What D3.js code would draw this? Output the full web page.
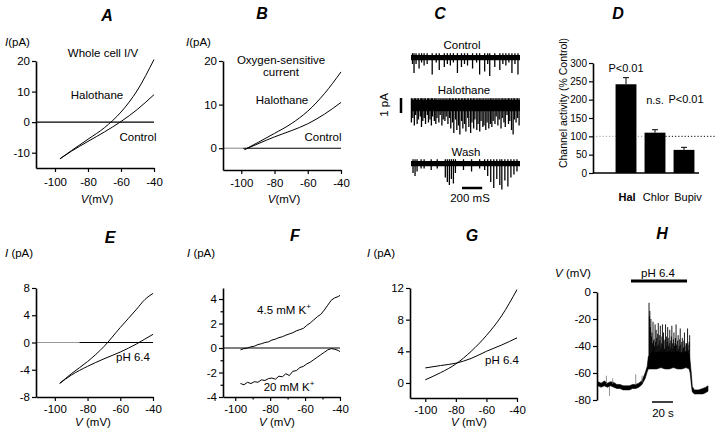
<!DOCTYPE html>
<html><head><meta charset="utf-8">
<script src="https://cdn.jsdelivr.net/npm/d3@7"></script>
<style>
body{margin:0;background:#fff}
svg{display:block;font-family:"Liberation Sans",Arial,Helvetica,sans-serif}
</style></head><body>
<svg id="c" width="720" height="440"></svg>
<script>
// ---------------- DATA ----------------
const panelTitles = ["A","B","C","D","E","F","G","H"];
const voltTicks = [-100,-80,-60,-40];

// A: whole cell I/V
const voltA = [-97,-90,-80,-70,-60,-50,-40];
const curA_control = [-12,-9.5,-6.3,-3.2,0.2,4.2,9];
const curA_halothane = [-12,-9.3,-5.6,-1.8,3.3,10.5,20.5];
const ticksA = [20,10,0,-10];

// B: oxygen-sensitive current
const voltB = [-98,-90,-80,-70,-60,-50,-40];
const curB_control = [-0.3,1.0,2.6,4.0,5.6,7.8,10.5];
const curB_halothane = [-0.3,1.3,3.4,5.6,8.5,12.5,17.5];
const ticksB = [20,10,0];

// C: single channel traces (time ms, amplitude pA)
const cLabels = ["Control","Halothane","Wash"];
const cNoise = [0.35, 0.75, 0.35];
const cEvents_control = [[15,-0.6],[30,-1.2],[50,-0.6],[80,-0.9],[105,-0.5],[130,-0.7],[160,-0.6],[210,-1.3],[250,-0.5],[280,-1.0],[330,-0.8],[360,-0.6],[390,-0.7],[420,-0.5],[460,-1.2],[500,-0.8],[530,-0.6],[560,-0.7],[610,-0.9],[650,-0.5],[680,-1.3],[730,-1.1],[760,-0.6],[780,-1.4],[830,-0.8],[880,-1.0],[910,-0.6],[940,-0.7],[970,-0.5],[1000,-1.2],[1030,-0.6],[1060,-1.3]];
const cEvents_halothane = [[4,-1.5],[18,-1.2],[33,-1.7],[46,-1.0],[61,-1.6],[74,-1.3],[92,-1.1],[104,-1.8],[117,-1.4],[131,-1.2],[144,-1.6],[162,-1.0],[173,-1.5],[188,-1.3],[202,-1.7],[214,-1.1],[231,-1.4],[246,-1.6],[258,-1.2],[276,-1.5],[289,-1.0],[306,-1.7],[319,-1.3],[336,-1.4],[349,-1.1],[366,-1.6],[381,-1.2],[394,-1.9],[411,-1.5],[424,-2.2],[441,-1.3],[454,-2.0],[471,-1.7],[484,-2.3],[502,-1.4],[514,-1.9],[531,-1.6],[544,-2.1],[562,-1.2],[573,-1.8],[591,-2.2],[604,-1.5],[621,-1.9],[633,-1.3],[652,-2.0],[664,-1.6],[681,-2.1],[694,-1.4],[712,-1.8],[723,-1.7],[741,-2.0],[754,-1.5],[771,-1.9],[786,-1.6],[801,-1.8],[814,-1.4],[832,-1.6],[844,-1.1],[861,-1.7],[874,-1.3],[892,-1.9],[904,-1.2],[921,-1.5],[934,-1.8],[951,-1.0],[966,-1.6],[979,-1.4],[996,-2.0],[1012,-2.3],[1024,-1.3],[1041,-1.5],[1056,-1.2],[1071,-1.7]];
const cEvents_wash = [[20,-0.8],[40,-1.0],[60,-0.7],[100,-0.5],[130,-0.5],[200,-0.6],[260,-0.5],[340,-1.1],[360,-1.4],[380,-1.6],[400,-1.2],[420,-1.5],[440,-0.8],[520,-0.6],[600,-0.7],[680,-0.5],[730,-0.6],[760,-1.0],[790,-1.4],[820,-1.8],[850,-1.2],[880,-1.6],[900,-1.9],[930,-1.3],[960,-1.7],[990,-1.1],[1020,-0.9],[1050,-0.7]];

// D: channel activity (% control)
const dCategories = ["Hal","Chlor","Bupiv"];
const dValues = [242,110,63];
const dErrors = [18,8,7];
const dSignif = ["P<0.01","n.s.","P<0.01"];
const dTicks = [0,50,100,150,200,250,300];

// E: pH effect, whole cell
const voltE = [-97,-90,-80,-70,-60,-50,-45,-40];
const curE_control = [-6,-4.6,-2.8,-0.6,2.2,4.9,6.3,7.2];
const curE_ph64 = [-6,-4.8,-3.5,-2.4,-1.4,-0.2,0.5,1.2];
const ticksE = [8,4,0,-4,-8];

// F: K+ dependence
const voltF = [-97,-95,-93,-91,-89,-87,-85,-83,-81,-79,-77,-75,-73,-71,-69,-67,-65,-63,-61,-59,-57,-55,-53,-51,-49,-47,-45,-43,-41,-40];
const curF_k45 = [-0.15,-0.05,0.0,0.1,0.15,0.28,0.35,0.45,0.5,0.65,0.72,0.85,0.92,1.05,1.15,1.25,1.4,1.5,1.6,1.85,2.05,2.3,2.55,2.75,3.1,3.5,3.9,4.1,4.2,4.3];
const curF_k20 = [-2.9,-3.0,-2.8,-2.9,-2.75,-2.8,-2.6,-2.65,-2.5,-2.45,-2.55,-2.3,-2.35,-2.1,-2.25,-1.9,-1.85,-1.6,-1.5,-1.3,-1.15,-0.95,-0.75,-0.55,-0.35,-0.15,-0.05,-0.1,-0.2,-0.3];
const ticksF = [4,2,0,-2,-4];
const minorTicksF = [3,1,-1,-3];

// G: single-channel I/V
const voltG = [-100,-90,-80,-70,-60,-50,-40];
const curG_control = [0.4,1.3,2.4,4.0,6.0,8.5,11.8];
const curG_ph64 = [1.9,2.2,2.5,3.1,4.0,4.8,5.7];
const ticksG = [12,8,4,0];

// H: membrane potential (time s, low mV, high mV envelope)
const hBand = [[0,-69.5,-66.5],[3,-70.5,-67.5],[6,-69.5,-66],[9,-70.5,-67.5],[12,-69.5,-66.5],[15,-70.5,-67],[18,-71.5,-68.5],[21,-71.5,-68.5],[24,-72.5,-69.5],[27,-72.5,-69.5],[30,-72.5,-69.5],[33,-71.5,-68.5],[36,-71.5,-68.5],[39,-70.5,-67.5],[42,-68.5,-65.5],[45,-64,-60],[47,-59,-55],[48,-57,-48],[52,-57,-44],[56,-57,-45],[60,-56,-44],[64,-57,-45],[68,-57,-44],[72,-56,-45],[76,-57,-44],[80,-57,-45],[84,-56,-44],[87,-57,-46],[88,-60,-52],[89,-68,-60],[90,-74,-70],[92,-75.5,-72.5],[96,-75.5,-72.5],[100,-75.5,-71.5],[103,-74.5,-70.5],[105,-73.5,-69.5]];
const hSpikes = [[48.7,-8],[49.1,-18],[49.5,-14],[50.0,-26],[50.5,-20],[51.0,-33],[51.5,-30],[52.0,-38],[52.5,-22],[53.0,-36],[53.5,-35],[54.0,-40],[54.5,-24],[55.0,-37],[55.5,-28],[56.0,-34],[56.5,-40],[57.0,-31],[57.5,-23],[58.0,-39],[58.5,-32],[59.0,-36],[59.5,-25],[60.0,-41],[60.5,-38],[61.0,-33],[61.5,-24],[62.0,-39],[62.5,-30],[63.0,-36],[63.5,-42],[64.0,-35],[64.5,-24],[65.0,-40],[65.5,-33],[66.0,-37],[66.5,-26],[67.0,-34],[67.5,-40],[68.0,-38],[68.5,-28],[69.0,-41],[69.5,-36],[70.0,-33],[70.5,-25],[71.0,-38],[71.5,-42],[72.0,-35],[72.5,-30],[73.0,-40],[73.5,-38],[74.0,-34],[74.5,-24],[75.0,-39],[75.5,-44],[76.0,-36],[76.5,-32],[77.0,-42],[77.5,-40],[78.0,-35],[78.5,-27],[79.0,-39],[79.5,-45],[80.0,-37],[80.5,-34],[81.0,-42],[81.5,-41],[82.0,-36],[82.5,-30],[83.0,-40],[83.5,-46],[84.0,-38],[84.5,-38],[85.0,-42],[85.5,-27],[86.0,-39],[86.5,-43],[87.0,-37],[87.5,-32]];
const hSmall = [[8,-68,-62],[11,-70,-77],[14,-68,-64],[36,-69,-61],[42,-67,-62]];
const hTicks = [0,-20,-40,-60,-80];
const hPhPeriod = [31.5,85];

// ---------------- DRAWING ----------------
const svg = d3.select("#c");
const FS = 11.5;

function txt(x, y, s, o = {}) {
  const t = svg.append("text").attr("x", x).attr("y", y)
    .attr("font-size", o.size || FS).attr("text-anchor", o.anchor || "middle").attr("fill", "#000");
  if (o.bold) t.attr("font-weight", "bold");
  if (o.italic) t.attr("font-style", "italic");
  if (o.rotate) t.attr("transform", `rotate(${o.rotate},${x},${y})`);
  t.text(s);
  return t;
}
function unitLabel(x, y, sym, rest, anchor) {
  const t = svg.append("text").attr("x", x).attr("y", y).attr("font-size", FS)
    .attr("text-anchor", anchor || "start").attr("fill", "#000");
  t.append("tspan").attr("font-style", "italic").text(sym);
  t.append("tspan").text(rest);
  return t;
}
function kLabel(x, y, s) {
  const t = svg.append("text").attr("x", x).attr("y", y).attr("font-size", FS).attr("text-anchor", "middle");
  t.append("tspan").text(s);
  t.append("tspan").attr("font-size", 8).attr("dy", -5).text("+");
}
function styleAxis(g, fs) {
  g.attr("font-family", null).attr("font-size", fs || FS);
  g.select(".domain").attr("stroke-width", 1.6);
  g.selectAll(".tick line").attr("stroke-width", 1.2);
  g.selectAll(".tick text").attr("fill", "#000");
}

// titles
const titlePos = [[107,21],[262,19],[440,19],[618,19],[110,243],[295,241],[472,241],[662,239]];
panelTitles.forEach((t, i) => txt(titlePos[i][0], titlePos[i][1], t, {size: 16, bold: true, italic: true}));

function ivPanel(o) {
  const x = d3.scaleLinear().domain(o.xDom).range(o.xRange);
  const y = d3.scaleLinear().domain(o.yDom).range(o.yRange);
  const g = svg.append("g");
  if (o.zero) {
    if (o.grayTo) g.append("line").attr("x1", x(o.xDom[0])).attr("x2", x(o.grayTo)).attr("y1", y(0)).attr("y2", y(0)).attr("stroke", "#999").attr("stroke-width", 1.2);
    g.append("line").attr("x1", x(o.grayTo || o.xDom[0])).attr("x2", x(-40)).attr("y1", y(0)).attr("y2", y(0)).attr("stroke", "#000").attr("stroke-width", 1.1);
  }
  o.series.forEach(s => {
    g.append("path").datum(d3.zip(s.v, s.i))
      .attr("d", d3.line().x(d => x(d[0])).y(d => y(d[1])).curve(s.curve || d3.curveMonotoneX))
      .attr("fill", "none").attr("stroke", "#000").attr("stroke-width", 1);
  });
  const ay = g.append("g").attr("transform", `translate(${o.xRange[0]},0)`)
    .call(d3.axisLeft(y).tickValues(o.yTicks).tickSize(4).tickSizeOuter(0).tickPadding(2).tickFormat(d => String(d)));
  styleAxis(ay);
  const ax = g.append("g").attr("transform", `translate(0,${o.yRange[0]})`)
    .call(d3.axisBottom(x).tickValues(voltTicks).tickSize(4).tickSizeOuter(0).tickPadding(o.xPad || 5).tickFormat(d => String(d)));
  styleAxis(ax);
  if (o.minorY) {
    const m = g.append("g").attr("transform", `translate(${o.xRange[0]},0)`)
      .call(d3.axisLeft(y).tickValues(o.minorY).tickSize(2.5).tickSizeOuter(0).tickFormat(""));
    m.select(".domain").remove(); m.selectAll(".tick line").attr("stroke-width", 1.2);
  }
  if (o.minorX) {
    const m = g.append("g").attr("transform", `translate(0,${o.yRange[0]})`)
      .call(d3.axisBottom(x).tickValues(o.minorX).tickSize(2.5).tickSizeOuter(0).tickFormat(""));
    m.select(".domain").remove(); m.selectAll(".tick line").attr("stroke-width", 1.2);
  }
  return {x, y};
}

// Panel A
ivPanel({xDom: [-111.5,-40], xRange: [36,154], yDom: [-15,20], yRange: [168,61], yTicks: ticksA, zero: true, xPad: 6,
  series: [{v: voltA, i: curA_control}, {v: voltA, i: curA_halothane}]});
unitLabel(5, 46, "I", "(pA)");
txt(103, 57, "Whole cell I/V");
txt(97, 99, "Halothane");
txt(138, 141, "Control");
unitLabel(97, 203, "V", "(mV)", "middle");

// Panel B
ivPanel({xDom: [-111,-40], xRange: [223,341], yDom: [-5,20], yRange: [170,61], yTicks: ticksB, zero: true, grayTo: -99, xPad: 5,
  series: [{v: voltB, i: curB_control}, {v: voltB, i: curB_halothane}]});
unitLabel(186, 46, "I", "(pA)");
txt(281, 64, "Oxygen-sensitive");
txt(281, 76, "current");
txt(282, 104, "Halothane");
txt(323, 141, "Control");
unitLabel(284, 203, "V", "(mV)", "middle");

// Panel C
const cx = d3.scaleLinear().domain([0,1080]).range([411,520]);
const cAmp = d3.scaleLinear().domain([0,-1]).range([0,15]);
const cBase = [55, 100, 161];
const cAll = [cEvents_control, cEvents_halothane, cEvents_wash];
cAll.forEach((ev, k) => {
  const g = svg.append("g").attr("transform", `translate(0,${cBase[k]})`);
  g.append("rect").attr("x", cx(0)).attr("width", cx(1080) - cx(0))
    .attr("y", cAmp(0)).attr("height", cAmp(-cNoise[k]) - cAmp(0)).attr("fill", "#000");
  g.selectAll("line").data(ev).join("line")
    .attr("x1", d => cx(d[0])).attr("x2", d => cx(d[0]))
    .attr("y1", cAmp(0.12)).attr("y2", d => cAmp(d[1]))
    .attr("stroke", "#000").attr("stroke-width", 1.3);
  txt([462,464,466][k], [49,94,156][k], cLabels[k]);
});
// scale bars
svg.append("line").attr("x1", 401).attr("x2", 401).attr("y1", 98).attr("y2", 98 + cAmp(-1))
  .attr("stroke", "#000").attr("stroke-width", 2.5);
txt(388, 105, "1 pA", {rotate: -90});
svg.append("line").attr("x1", 462).attr("x2", 462 + cx(200) - cx(0)).attr("y1", 188).attr("y2", 188)
  .attr("stroke", "#000").attr("stroke-width", 2.5);
txt(470, 202, "200 mS");

// Panel D
const dx = d3.scaleBand().domain(dCategories).range([611.5,698.5]).paddingInner(0.28).paddingOuter(0.14);
const dy = d3.scaleLinear().domain([0,300]).range([173,63]);
svg.append("line").attr("x1", 593).attr("x2", dx("Chlor")).attr("y1", dy(100)).attr("y2", dy(100))
  .attr("stroke", "#999").attr("stroke-dasharray", "1.2,2").attr("stroke-width", 1);
svg.append("line").attr("x1", dx("Chlor") + dx.bandwidth()).attr("x2", 716).attr("y1", dy(100)).attr("y2", dy(100))
  .attr("stroke", "#000").attr("stroke-dasharray", "1.2,2").attr("stroke-width", 1);
const dData = d3.zip(dCategories, dValues, dErrors, dSignif);
svg.selectAll("line.err").data(dData).join("line").attr("class", "err")
  .attr("x1", d => dx(d[0]) + dx.bandwidth() / 2).attr("x2", d => dx(d[0]) + dx.bandwidth() / 2)
  .attr("y1", d => dy(d[1])).attr("y2", d => dy(d[1] + d[2])).attr("stroke", "#000").attr("stroke-width", 1);
svg.selectAll("line.cap").data(dData).join("line").attr("class", "cap")
  .attr("x1", d => dx(d[0]) + dx.bandwidth() / 2 - 3).attr("x2", d => dx(d[0]) + dx.bandwidth() / 2 + 3)
  .attr("y1", d => dy(d[1] + d[2])).attr("y2", d => dy(d[1] + d[2])).attr("stroke", "#000").attr("stroke-width", 1);
svg.selectAll("rect.bar").data(dData).join("rect").attr("class", "bar")
  .attr("x", d => dx(d[0])).attr("width", dx.bandwidth())
  .attr("y", d => dy(d[1])).attr("height", d => dy(0) - dy(d[1])).attr("fill", "#000");
const dAxis = svg.append("g").attr("transform", "translate(593,0)")
  .call(d3.axisLeft(dy).tickValues(dTicks).tickSize(4).tickSizeOuter(0).tickPadding(2));
styleAxis(dAxis, 10);
svg.append("line").attr("x1", 593).attr("x2", 699).attr("y1", dy(0)).attr("y2", dy(0)).attr("stroke", "#000").attr("stroke-width", 1.4);
const sigY = [72, 104, 103];
dData.forEach((d, i) => {
  txt(dx(d[0]) + dx.bandwidth() / 2 + (i === 2 ? 2 : 0), sigY[i], d[3], {size: 11});
  txt(dx(d[0]) + dx.bandwidth() / 2 + (i === 2 ? 4 : 1), 201, d[0], {size: 11, bold: i === 0});
});
txt(567, 103, "Channel activity (% Control)", {size: 10.5, rotate: -90});

// Panel E
ivPanel({xDom: [-111.5,-40], xRange: [36,153], yDom: [-8,8], yRange: [397,288], yTicks: ticksE, zero: true, grayTo: -85, xPad: 4,
  series: [{v: voltE, i: curE_control}, {v: voltE, i: curE_ph64}]});
unitLabel(5, 257, "I", " (pA)");
txt(133, 361, "pH 6.4");
unitLabel(93, 426, "V", " (mV)", "middle");

// Panel F
ivPanel({xDom: [-107,-40], xRange: [223,340], yDom: [-4,4.9], yRange: [397,288], yTicks: ticksF, zero: true, xPad: 4,
  minorY: minorTicksF, minorX: [-90,-70,-50],
  series: [{v: voltF, i: curF_k45, curve: d3.curveLinear}, {v: voltF, i: curF_k20, curve: d3.curveLinear}]});
unitLabel(187, 257, "I", " (pA)");
kLabel(284, 314, "4.5 mM K");
kLabel(289, 391, "20 mM K");
unitLabel(277, 426, "V", " (mV)", "middle");

// Panel G
ivPanel({xDom: [-110,-40], xRange: [410,517], yDom: [-1.9,12], yRange: [398,288], yTicks: ticksG, zero: false, xPad: 4,
  series: [{v: voltG, i: curG_control}, {v: voltG, i: curG_ph64}]});
unitLabel(367, 257, "I", " (pA)");
txt(502, 364, "pH 6.4");
unitLabel(469, 426, "V", " (mV)", "middle");

// Panel H
const hx = d3.scaleLinear().domain([0,105]).range([598,708]);
const hy = d3.scaleLinear().domain([-80,0]).range([400,292]);
svg.append("path").datum(hBand)
  .attr("d", d3.area().x(d => hx(d[0])).y0(d => hy(d[1])).y1(d => hy(d[2])))
  .attr("fill", "#000").attr("stroke", "#000").attr("stroke-width", 0.6);
svg.selectAll("line.hs").data(hSpikes).join("line").attr("class", "hs")
  .attr("x1", d => hx(d[0])).attr("x2", d => hx(d[0]))
  .attr("y1", hy(-55)).attr("y2", d => hy(d[1])).attr("stroke", "#000").attr("stroke-width", 0.9);
svg.selectAll("line.hb").data(hSmall).join("line").attr("class", "hb")
  .attr("x1", d => hx(d[0])).attr("x2", d => hx(d[0]))
  .attr("y1", d => hy(d[1])).attr("y2", d => hy(d[2])).attr("stroke", "#777").attr("stroke-width", 0.8);
const hAxis = svg.append("g").attr("transform", "translate(597,0)")
  .call(d3.axisLeft(hy).tickValues(hTicks).tickSize(4).tickSizeOuter(0).tickPadding(2).tickFormat(d => String(d)));
styleAxis(hAxis);
svg.append("line").attr("x1", hx(hPhPeriod[0])).attr("x2", hx(hPhPeriod[1])).attr("y1", 281).attr("y2", 281)
  .attr("stroke", "#000").attr("stroke-width", 3);
txt(658, 277, "pH 6.4");
unitLabel(573, 277, "V", " (mV)", "middle");
svg.append("line").attr("x1", 652).attr("x2", 652 + hx(20) - hx(0)).attr("y1", 402).attr("y2", 402)
  .attr("stroke", "#000").attr("stroke-width", 1.5);
txt(663, 417, "20 s");
</script>
</body></html>
